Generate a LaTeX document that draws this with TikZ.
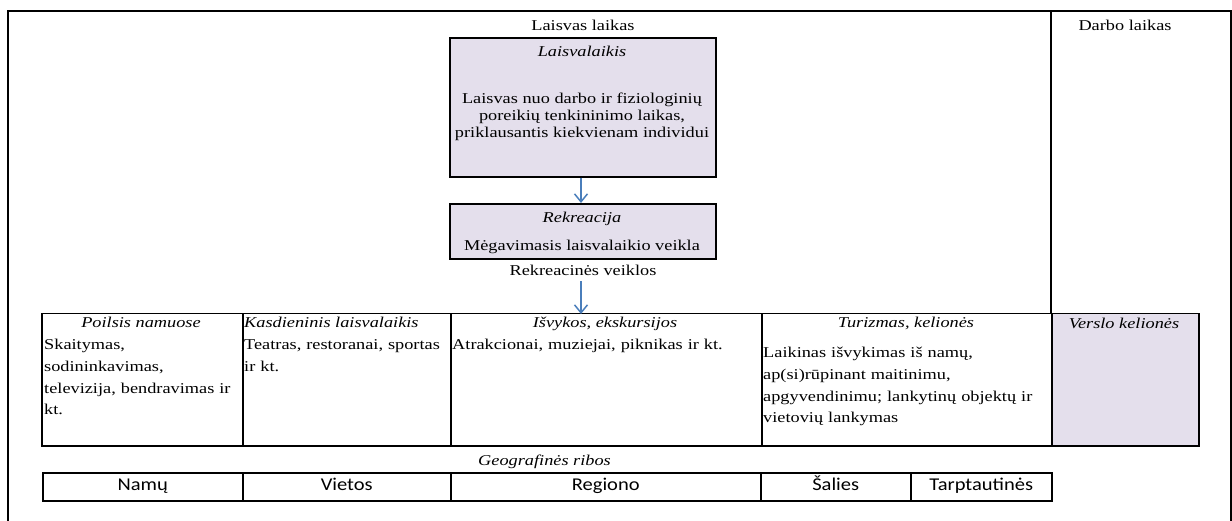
\documentclass[tikz,border=0pt]{standalone}
\usepackage{fontspec}
\setmainfont{Liberation Serif}[FakeStretch=1.22]
\newfontfamily\geofont{Carlito}[FakeStretch=1.14]
\usetikzlibrary{arrows.meta}
\definecolor{lav}{HTML}{E4DFEC}
\definecolor{arrblue}{HTML}{4A7EBB}
\tikzset{
  frame/.style={line width=1.8pt},
  box/.style={draw, line width=1.7pt, fill=lav, inner sep=0pt, anchor=north west},
  cell/.style={draw, line width=1.5pt, inner sep=0pt, anchor=north west},
  txt/.style={inner sep=0pt, font=\fontsize{15}{16.7}\selectfont, text height=10.5pt, text depth=3.7pt},
  itxt/.style={txt, font=\fontsize{15}{16.7}\selectfont\itshape},
  ttxt/.style={inner sep=0pt, align=left, anchor=north west, font=\fontsize{15}{21.7}\selectfont},
  geo/.style={inner sep=0pt, font=\geofont\fontsize{18}{20}\selectfont, text height=12pt, text depth=4pt},
  arr/.style={draw=arrblue, line width=1.5pt, -{Straight Barb[length=8pt,width=13pt,line width=1.5pt]}}
}
\begin{document}
\begin{tikzpicture}[x=1pt,y=-1pt]
\useasboundingbox (0,0) rectangle (1232,521);
% outer frame
\coordinate (fbl) at (8,521);
\coordinate (ftl) at (8,11);
\coordinate (ftr) at (1231,11);
\coordinate (fbr) at (1231,521);
\coordinate (dtop) at (1051,11);
\draw[frame] (fbl) -- (ftl) -- (ftr) -- (fbr);
% top labels
\node[txt] (ll) at (583,27) {Laisvas laikas};
\node[txt] (dl) at (1125,27) {Darbo laikas};
% boxes
\node[box, minimum width=266pt, minimum height=139pt] (lz) at (449,37) {};
\node[itxt] (lzt) at (582,53) {Laisvalaikis};
\node[txt, align=center, text height=, text depth=] (lzb) at (582,117) {Laisvas nuo darbo ir fiziologinių\\poreikių tenkininimo laikas,\\priklausantis kiekvienam individui};
\node[box, minimum width=266pt, minimum height=55pt] (rk) at (449,203) {};
\node[itxt] (rkt) at (582,219) {Rekreacija};
\node[txt] (rkb) at (582,247) {Mėgavimasis laisvalaikio veikla};
\node[txt] (rv) at (583,272) {Rekreacinės veiklos};
% main table
\node[cell, minimum width=201pt, minimum height=132pt] (c1) at (41,313) {};
\node[cell, minimum width=208pt, minimum height=132pt] (c2) at (242,313) {};
\node[cell, minimum width=311pt, minimum height=132pt] (c3) at (450,313) {};
\node[cell, minimum width=290pt, minimum height=132pt] (c4) at (761,313) {};
\node[cell, fill=lav, minimum width=147pt, minimum height=132pt] (c5) at (1051,313) {};
\draw[frame] (dtop) -- (c5.north west);
% arrows
\draw[arr] (lz.south -| lzt.south) ++(-1,0) coordinate (a1s) (a1s) -- (a1s |- rk.north);
\draw[arr] (rv.south) ++(-2,2) coordinate (a2s) (a2s) -- ([yshift=-1pt]a2s |- c3.north);
% headers
\node[itxt] (h1) at (141,324) {Poilsis namuose};
\node[itxt, anchor=west] (h2) at (244,324) {Kasdieninis laisvalaikis};
\node[itxt] (h3) at (605,324) {Išvykos, ekskursijos};
\node[itxt] (h4) at (906,324) {Turizmas, kelionės};
\node[itxt] (h5) at (1124,325) {Verslo kelionės};
% bodies
\node[ttxt, text width=196pt] (b1) at (44,334.5) {\strut Skaitymas,\\sodininkavimas,\\televizija, bendravimas ir\\kt.};
\node[ttxt, text width=205pt] (b2) at (244,334.5) {\strut Teatras, restoranai, sportas\\ir kt.};
\node[ttxt, text width=306pt] (b3) at (452,334.5) {\strut Atrakcionai, muziejai, piknikas ir kt.};
\node[ttxt, text width=286pt] (b4) at (763,342.5) {\strut Laikinas išvykimas iš namų,\\ap(si)rūpinant maitinimu,\\apgyvendinimu; lankytinų objektų ir\\vietovių lankymas};
% geography row
\node[itxt, anchor=west] (gr) at (478,462) {Geografinės ribos};
\node[cell, minimum width=200pt, minimum height=28pt] (g1) at (42,472) {};
\node[cell, minimum width=208pt, minimum height=28pt] (g2) at (242,472) {};
\node[cell, minimum width=310pt, minimum height=28pt] (g3) at (450,472) {};
\node[cell, minimum width=150pt, minimum height=28pt] (g4) at (760,472) {};
\node[cell, minimum width=141pt, minimum height=28pt] (g5) at (910,472) {};
\node[geo] (t1) at (g1.center) {Namų};
\node[geo] (t2) at (g2.center) {Vietos};
\node[geo] (t3) at (g3.center) {Regiono};
\node[geo] (t4) at (g4.center) {Šalies};
\node[geo] (t5) at (g5.center) {Tarptautinės};
\end{tikzpicture}
\end{document}
